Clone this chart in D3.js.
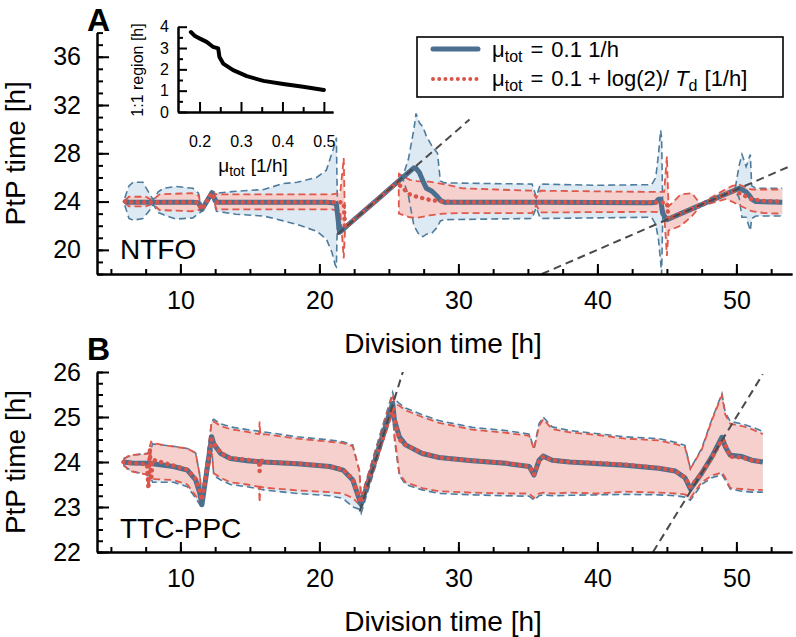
<!DOCTYPE html>
<html>
<head>
<meta charset="utf-8">
<script src="https://cdn.jsdelivr.net/npm/d3@7"></script>
<style>
  body { margin: 0; background: #fff; }
  svg { font-family: "Liberation Sans", Arial, sans-serif; }
</style>
</head>
<body>
<svg id="chart" width="796" height="637"></svg>
<script>
/************
** data, panel A (NTFO)
*************/
// mu_tot = 0.1 1/h  (blue): time, mean, lower, upper
var ntfoBlueT  = [6.0, 6.3, 6.6, 7.3, 7.8, 8.05, 8.4, 8.8, 9.7, 10.9, 11.3, 11.55, 12.25, 12.6, 14.0, 16.0, 17.4, 18.4, 19.8, 20.5, 20.9, 21.15, 21.22, 21.3, 21.45, 22.5, 23.5, 24.5, 25.5, 26.0, 26.4, 26.8, 26.95, 27.2, 27.45, 27.7, 28.1, 28.5, 28.7, 29.0, 32.0, 35.3, 35.6, 35.9, 40.0, 43.5, 43.9, 44.2, 44.4, 44.55, 44.62, 44.7, 45.0, 46.0, 47.0, 48.0, 49.0, 49.9, 50.2, 50.4, 50.7, 51.0, 51.1, 51.4, 53.3];
var ntfoBlueM  = [24.0, 23.95, 23.95, 23.95, 23.95, 23.95, 23.95, 23.95, 23.95, 23.95, 23.9, 23.35, 24.7, 23.95, 23.95, 23.95, 23.95, 23.95, 23.95, 23.95, 23.9, 23.85, 23.8, 23.0, 21.45, 22.5, 23.5, 24.5, 25.5, 26.0, 26.4, 26.8, 26.75, 26.4, 25.7, 25.1, 24.85, 24.4, 24.1, 23.95, 23.95, 23.95, 23.95, 23.95, 23.92, 23.9, 23.9, 23.95, 24.2, 24.2, 23.6, 23.0, 22.5, 23.0, 23.5, 24.0, 24.5, 24.95, 25.1, 25.0, 24.8, 24.4, 24.2, 24.0, 23.95];
var ntfoBlueLo = [23.7, 22.6, 22.45, 22.6, 23.3, 23.75, 23.1, 22.9, 22.55, 22.65, 23.0, 23.2, 24.5, 23.2, 22.95, 22.8, 22.4, 22.1, 21.55, 20.9, 19.8, 18.7, 18.6, 22.8, 21.4, 22.45, 23.45, 24.45, 25.45, 25.9, 24.5, 22.0, 21.7, 21.2, 21.1, 21.3, 21.4, 21.9, 22.4, 22.5, 22.55, 22.6, 23.5, 22.6, 22.65, 22.7, 22.7, 22.1, 20.8, 19.0, 18.0, 22.7, 22.4, 22.95, 23.45, 23.95, 24.45, 24.9, 24.3, 22.7, 22.7, 21.6, 22.6, 22.8, 22.8];
var ntfoBlueHi = [24.3, 25.3, 25.6, 25.6, 24.6, 24.15, 24.8, 25.1, 25.25, 25.1, 24.7, 23.5, 24.9, 24.7, 24.85, 25.0, 25.5, 25.6, 26.0, 26.6, 28.0, 28.9, 29.3, 23.3, 21.5, 22.55, 23.55, 24.55, 25.55, 26.1, 27.5, 30.0, 31.3, 30.5, 30.2, 29.4, 28.6, 28.0, 25.7, 25.55, 25.5, 25.45, 24.4, 25.45, 25.35, 25.4, 25.4, 26.0, 28.0, 29.9, 29.3, 23.4, 22.6, 23.05, 23.55, 24.05, 24.55, 25.0, 27.0, 27.9, 26.9, 27.9, 25.3, 25.1, 25.1];

// mu_tot = 0.1 + log(2)/Td  (red)
var ntfoRedT  = [6.0, 6.3, 7.5, 8.0, 8.5, 10.8, 11.3, 11.55, 12.25, 12.6, 20.9, 21.5, 21.75, 21.85, 25.7, 25.72, 26.5, 27.0, 27.9, 28.9, 30.3, 32.7, 35.3, 35.6, 35.9, 43.9, 44.8, 45.0, 45.12, 46.0, 46.8, 47.4, 49.2, 49.7, 50.2, 51.1, 52.0, 53.3];
var ntfoRedM  = [24.0, 23.95, 23.95, 23.95, 23.95, 23.95, 23.9, 23.35, 24.7, 23.95, 23.95, 23.95, 23.9, 21.85, 25.7, 25.4, 24.6, 24.4, 24.15, 24.0, 23.95, 23.95, 23.95, 23.95, 23.95, 23.95, 23.9, 23.9, 22.56, 23.0, 23.4, 23.7, 24.6, 24.9, 24.7, 24.2, 24.05, 24.0];
var ntfoRedLo = [23.9, 23.6, 23.6, 23.8, 23.3, 23.2, 23.3, 23.25, 24.6, 23.35, 23.35, 23.2, 19.3, 21.8, 25.65, 23.0, 22.7, 22.65, 22.85, 23.0, 23.05, 23.05, 23.05, 23.7, 23.1, 23.15, 23.1, 19.5, 21.6, 22.0, 22.8, 23.6, 24.2, 24.0, 23.7, 23.2, 23.05, 23.0];
var ntfoRedHi = [24.1, 24.4, 24.4, 24.1, 24.6, 24.7, 24.5, 23.45, 24.8, 24.6, 24.6, 24.7, 27.6, 21.9, 25.75, 26.3, 25.8, 25.7, 25.65, 25.45, 25.1, 25.0, 24.9, 24.3, 24.9, 24.8, 24.8, 27.75, 23.6, 24.6, 24.7, 23.8, 25.0, 25.3, 25.4, 25.0, 25.0, 25.0];

// entrainment guides PtP = slope * division time
var ntfoGuides = [{slope: 1, from: 21.3, to: 30.8}, {slope: 0.5, from: 36, to: 54}];

/************
** data, panel B (TTC-PPC)
*************/
var ttcBlueT  = [5.9, 6.5, 7.8, 8.0, 9.5, 10.5, 11.1, 11.4, 11.55, 12.25, 12.4, 12.9, 13.6, 14.8, 16.0, 18.4, 20.75, 21.7, 22.4, 22.88, 23.0, 25.27, 25.4, 25.75, 26.2, 27.4, 28.6, 31.0, 33.4, 35.1, 35.44, 35.8, 36.1, 36.75, 38, 42, 44.4, 45.6, 46.3, 46.69, 47.5, 48.24, 48.96, 49.2, 49.56, 50.4, 51.1, 51.9];
var ttcBlueM  = [24.0, 23.98, 23.97, 23.96, 23.9, 23.82, 23.6, 23.3, 23.05, 24.56, 24.4, 24.19, 24.08, 24.03, 24.0, 23.96, 23.9, 23.82, 23.6, 23.16, 23.05, 25.3, 24.93, 24.56, 24.38, 24.19, 24.1, 24.03, 23.97, 23.9, 23.71, 24.04, 24.13, 24.04, 24.0, 23.93, 23.86, 23.8, 23.65, 23.4, 23.75, 24.12, 24.55, 24.34, 24.15, 24.12, 24.04, 24.0];
var ttcBlueLo = [23.92, 23.8, 23.7, 23.55, 23.55, 23.45, 23.2, 23.05, 22.98, 24.3, 23.7, 23.6, 23.5, 23.45, 23.38, 23.3, 23.25, 23.19, 23.0, 22.95, 22.86, 25.15, 24.5, 23.7, 23.5, 23.38, 23.3, 23.27, 23.25, 23.24, 23.15, 23.25, 23.27, 23.25, 23.26, 23.28, 23.27, 23.25, 23.22, 23.15, 23.5, 23.65, 23.72, 23.6, 23.4, 23.35, 23.33, 23.33];
var ttcBlueHi = [24.08, 24.15, 24.2, 24.4, 24.35, 24.3, 24.2, 23.7, 23.15, 24.9, 24.95, 24.85, 24.78, 24.72, 24.67, 24.56, 24.49, 24.45, 24.38, 23.8, 23.2, 25.55, 25.4, 25.3, 25.2, 25.05, 24.92, 24.77, 24.7, 24.62, 24.3, 24.85, 25.0, 24.78, 24.7, 24.56, 24.52, 24.44, 24.37, 23.85, 24.3, 24.95, 25.52, 25.1, 24.9, 24.85, 24.78, 24.68];

var ttcRedT  = [5.9, 6.3, 7.6, 7.7, 7.8, 7.9, 8.0, 9.5, 10.5, 11.1, 11.4, 11.55, 12.25, 12.4, 12.9, 13.6, 14.8, 15.65, 15.7, 15.75, 16.0, 18.4, 20.75, 21.7, 22.4, 22.88, 23.0, 25.27, 25.4, 25.75, 26.2, 27.4, 28.6, 31.0, 33.4, 35.1, 35.44, 35.8, 36.1, 36.75, 38, 40.0, 42, 44.4, 45.6, 46.3, 46.69, 47.5, 48.24, 48.96, 49.2, 49.56, 50.4, 51.1, 51.9];
var ttcRedM  = [24.0, 23.98, 23.95, 23.4, 24.3, 23.6, 24.05, 23.92, 23.83, 23.62, 23.35, 23.15, 24.5, 24.42, 24.2, 24.08, 24.05, 24.0, 23.8, 24.05, 24.0, 23.97, 23.9, 23.83, 23.62, 23.2, 23.1, 25.2, 24.95, 24.5, 24.38, 24.2, 24.1, 24.03, 23.98, 23.9, 23.72, 24.02, 24.12, 24.04, 24.0, 23.98, 23.94, 23.87, 23.8, 23.66, 23.45, 23.75, 24.1, 24.5, 24.38, 24.12, 24.1, 24.04, 24.0];
var ttcRedLo = [23.95, 23.8, 23.72, 23.4, 23.62, 23.62, 23.62, 23.6, 23.5, 23.25, 23.1, 23.05, 24.2, 23.75, 23.65, 23.55, 23.5, 23.45, 23.1, 23.45, 23.43, 23.37, 23.33, 23.3, 23.2, 23.05, 23.0, 25.1, 24.6, 23.75, 23.55, 23.42, 23.35, 23.32, 23.3, 23.3, 23.2, 23.3, 23.32, 23.3, 23.32, 23.3, 23.34, 23.32, 23.3, 23.28, 23.2, 23.55, 23.7, 23.77, 23.65, 23.42, 23.4, 23.38, 23.38];
var ttcRedHi = [24.05, 24.15, 24.18, 24.2, 24.35, 24.45, 24.42, 24.34, 24.3, 24.2, 23.7, 23.2, 24.9, 24.9, 24.8, 24.73, 24.67, 24.62, 24.9, 24.6, 24.62, 24.52, 24.45, 24.42, 24.35, 23.8, 23.2, 25.5, 25.3, 25.25, 25.15, 25.0, 24.87, 24.72, 24.65, 24.58, 24.28, 24.8, 24.95, 24.73, 24.66, 24.6, 24.52, 24.48, 24.4, 24.33, 23.85, 24.27, 24.93, 25.48, 25.05, 24.85, 24.8, 24.73, 24.62];

var ttcGuides = [{slope: 1, from: 22.9, to: 26.2}, {slope: 0.5, from: 44, to: 51.9}];

/************
** data, inset (1:1 region vs mu_tot)
*************/
var insetMu     = [0.179, 0.189, 0.201, 0.217, 0.233, 0.245, 0.248, 0.257, 0.281, 0.314, 0.354, 0.402, 0.45, 0.5];
var insetRegion = [3.75, 3.56, 3.44, 3.29, 3.05, 2.98, 2.58, 2.27, 1.96, 1.68, 1.46, 1.31, 1.18, 1.03];

/************
** colors
*************/
var blueLine = "#4a6f8f";
var blueDash = "#4f7c9c";
var blueFill = "#dde9f3";
var redLine  = "#d9544a";
var redDash  = "#e0584b";
var redFill  = "#f5d0cc";
var guideCol = "#4a4a4a";

var svg = d3.select('#chart');
var x = d3.scaleLinear().domain([4, 54]).range([97, 792]);

function rows(t, m, lo, hi) {
    return t.map(function(v, i){ return {t: v, m: m[i], lo: lo[i], hi: hi[i]}; });
}

function styleAxis(g, size) {
    g.selectAll('path, line').attr('stroke', '#000').attr('stroke-width', 2);
    g.selectAll('text').attr('font-size', size).attr('fill', '#000');
}

function drawPanel(p) {
    var y = p.y;
    var g = svg.append('g');
    var clipId = 'clip' + p.letter;
    svg.append('clipPath').attr('id', clipId)
        .append('rect').attr('x', 97).attr('y', y.range()[1])
        .attr('width', 792 - 97).attr('height', y.range()[0] - y.range()[1]);

    var plot = g.append('g').attr('clip-path', 'url(#' + clipId + ')');
    var area = d3.area().x(function(d){ return x(d.t); })
        .y0(function(d){ return y(d.lo); }).y1(function(d){ return y(d.hi); });
    var lo = d3.line().x(function(d){ return x(d.t); }).y(function(d){ return y(d.lo); });
    var hi = d3.line().x(function(d){ return x(d.t); }).y(function(d){ return y(d.hi); });
    var mean = d3.line().x(function(d){ return x(d.t); }).y(function(d){ return y(d.m); });

    // bands
    plot.append('path').datum(p.blue).attr('d', area).attr('fill', blueFill);
    plot.append('path').datum(p.red).attr('d', area).attr('fill', redFill);
    [lo, hi].forEach(function(fn){
        plot.append('path').datum(p.blue).attr('d', fn).attr('fill', 'none')
            .attr('stroke', blueDash).attr('stroke-width', 1.6).attr('stroke-dasharray', '7,4');
    });
    [lo, hi].forEach(function(fn){
        plot.append('path').datum(p.red).attr('d', fn).attr('fill', 'none')
            .attr('stroke', redDash).attr('stroke-width', 1.8).attr('stroke-dasharray', '7,4');
    });
    // means
    plot.append('path').datum(p.blue).attr('d', mean).attr('fill', 'none')
        .attr('stroke', blueLine).attr('stroke-width', 5).attr('stroke-linejoin', 'round');
    plot.append('path').datum(p.red).attr('d', mean).attr('fill', 'none')
        .attr('stroke', redLine).attr('stroke-width', 4.5).attr('stroke-linecap', 'round')
        .attr('stroke-dasharray', '0.01,6.5');
    // guides
    p.guides.forEach(function(gd){
        plot.append('line')
            .attr('x1', x(gd.from)).attr('y1', y(gd.slope * gd.from))
            .attr('x2', x(gd.to)).attr('y2', y(gd.slope * gd.to))
            .attr('stroke', guideCol).attr('stroke-width', 2).attr('stroke-dasharray', '8,5');
    });

    // axes, ticks pointing inward
    var base = y.range()[0];
    var yMinor = g.append('g').attr('transform', 'translate(97,0)')
        .call(d3.axisLeft(y).tickValues(p.yMinor).tickSize(-6).tickSizeOuter(0).tickFormat(''));
    styleAxis(yMinor, 25);
    var yMajor = g.append('g').attr('transform', 'translate(97,0)')
        .call(d3.axisLeft(y).tickValues(p.yMajor).tickSize(-12).tickSizeOuter(0).tickPadding(16)
            .tickFormat(d3.format('d')));
    styleAxis(yMajor, 25);
    var xMinor = g.append('g').attr('transform', 'translate(0,' + base + ')')
        .call(d3.axisBottom(x).tickValues(xMinorTicks).tickSize(-5).tickSizeOuter(0).tickFormat(''));
    styleAxis(xMinor, 25);
    var xMajor = g.append('g').attr('transform', 'translate(0,' + base + ')')
        .call(d3.axisBottom(x).tickValues(xMajorTicks).tickSize(-10).tickSizeOuter(0).tickPadding(17)
            .tickFormat(d3.format('d')));
    styleAxis(xMajor, 25);

    g.append('text').attr('x', 443).attr('y', base + 79).attr('text-anchor', 'middle')
        .attr('font-size', 28).text('Division time [h]');
    var cy = (y.range()[0] + y.range()[1]) / 2;
    g.append('text').attr('transform', 'translate(25,' + cy + ') rotate(-90)')
        .attr('text-anchor', 'middle').attr('font-size', 28).text('PtP time [h]');
    g.append('text').attr('x', 120).attr('y', p.nameY).attr('font-size', 28).text(p.name);
    g.append('text').attr('x', 87).attr('y', p.letterY).attr('font-size', 32)
        .attr('font-weight', 'bold').text(p.letter);
}

var xMajorTicks = [10, 20, 30, 40, 50];
var xMinorTicks = d3.range(5, 54, 2.5);

drawPanel({
    name: 'NTFO', letter: 'A', letterY: 31, nameY: 259,
    y: d3.scaleLinear().domain([18, 38]).range([274, 32.6]),
    yMajor: [20, 24, 28, 32, 36], yMinor: d3.range(18, 38.5, 1),
    blue: rows(ntfoBlueT, ntfoBlueM, ntfoBlueLo, ntfoBlueHi),
    red: rows(ntfoRedT, ntfoRedM, ntfoRedLo, ntfoRedHi),
    guides: ntfoGuides
});
drawPanel({
    name: 'TTC-PPC', letter: 'B', letterY: 360, nameY: 538,
    y: d3.scaleLinear().domain([22, 26]).range([552, 372]),
    yMajor: [22, 23, 24, 25, 26], yMinor: d3.range(22, 26.1, 0.25),
    blue: rows(ttcBlueT, ttcBlueM, ttcBlueLo, ttcBlueHi),
    red: rows(ttcRedT, ttcRedM, ttcRedLo, ttcRedHi),
    guides: ttcGuides
});

/************
** inset
*************/
(function(){
    var xi = d3.scaleLinear().domain([0.148, 0.522]).range([178, 333]);
    var yi = d3.scaleLinear().domain([0, 4]).range([112, 26.7]);
    var g = svg.append('g');
    g.append('path').datum(d3.zip(insetMu, insetRegion))
        .attr('d', d3.line().x(function(d){ return xi(d[0]); }).y(function(d){ return yi(d[1]); }))
        .attr('fill', 'none').attr('stroke', '#000').attr('stroke-width', 4)
        .attr('stroke-linecap', 'round').attr('stroke-linejoin', 'round');

    var a;
    a = g.append('g').attr('transform', 'translate(178,0)')
        .call(d3.axisLeft(yi).tickValues([0.5, 1.5, 2.5, 3.5]).tickSize(-5).tickSizeOuter(0).tickFormat(''));
    styleAxis(a, 16);
    a = g.append('g').attr('transform', 'translate(178,0)')
        .call(d3.axisLeft(yi).tickValues([0, 1, 2, 3, 4]).tickSize(-9).tickSizeOuter(0).tickPadding(9).tickFormat(d3.format('d')));
    styleAxis(a, 16);
    a = g.append('g').attr('transform', 'translate(0,112)')
        .call(d3.axisBottom(xi).tickValues([0.25, 0.35, 0.45]).tickSize(-5).tickSizeOuter(0).tickFormat(''));
    styleAxis(a, 16);
    a = g.append('g').attr('transform', 'translate(0,112)')
        .call(d3.axisBottom(xi).tickValues([0.2, 0.3, 0.4, 0.5]).tickSize(-10).tickSizeOuter(0).tickPadding(24).tickFormat(d3.format('.1f')));
    styleAxis(a, 16);

    g.append('text').attr('transform', 'translate(143,70) rotate(-90)')
        .attr('text-anchor', 'middle').attr('font-size', 16).text('1:1 region [h]');
    var t = g.append('text').attr('x', 253).attr('y', 172).attr('text-anchor', 'middle').attr('font-size', 19);
    t.append('tspan').text('\u03bc');
    t.append('tspan').attr('font-size', 14).attr('dy', 4).text('tot');
    t.append('tspan').attr('dy', -4).attr('dx', 6).text('[1/h]');
})();

/************
** legend
*************/
(function(){
    var g = svg.append('g');
    g.append('rect').attr('x', 417).attr('y', 37).attr('width', 366).attr('height', 60)
        .attr('fill', '#fff').attr('stroke', '#000').attr('stroke-width', 1.6);
    g.append('line').attr('x1', 433).attr('x2', 478).attr('y1', 49).attr('y2', 49)
        .attr('stroke', blueLine).attr('stroke-width', 5).attr('stroke-linecap', 'round');
    g.append('line').attr('x1', 433).attr('x2', 478).attr('y1', 79).attr('y2', 79)
        .attr('stroke', redLine).attr('stroke-width', 4).attr('stroke-linecap', 'round')
        .attr('stroke-dasharray', '0.01,6.2');

    var t1 = g.append('text').attr('x', 492).attr('y', 57).attr('font-size', 22);
    t1.append('tspan').text('\u03bc');
    t1.append('tspan').attr('font-size', 16).attr('dy', 5).text('tot');
    t1.append('tspan').attr('dy', -5).attr('dx', 8).text('=');
    t1.append('tspan').attr('dx', 8).text('0.1');
    t1.append('tspan').attr('dx', 8).text('1/h');

    var t2 = g.append('text').attr('x', 492).attr('y', 86).attr('font-size', 22);
    t2.append('tspan').text('\u03bc');
    t2.append('tspan').attr('font-size', 16).attr('dy', 5).text('tot');
    t2.append('tspan').attr('dy', -5).attr('dx', 8).text('=');
    t2.append('tspan').attr('dx', 8).text('0.1');
    t2.append('tspan').attr('dx', 6).text('+');
    t2.append('tspan').attr('dx', 6).text('log(2)/');
    t2.append('tspan').attr('dx', 6).attr('font-style', 'italic').text('T');
    t2.append('tspan').attr('font-size', 16).attr('dy', 5).text('d');
    t2.append('tspan').attr('dy', -5).attr('dx', 7).text('[1/h]');
})();
</script>
</body>
</html>
